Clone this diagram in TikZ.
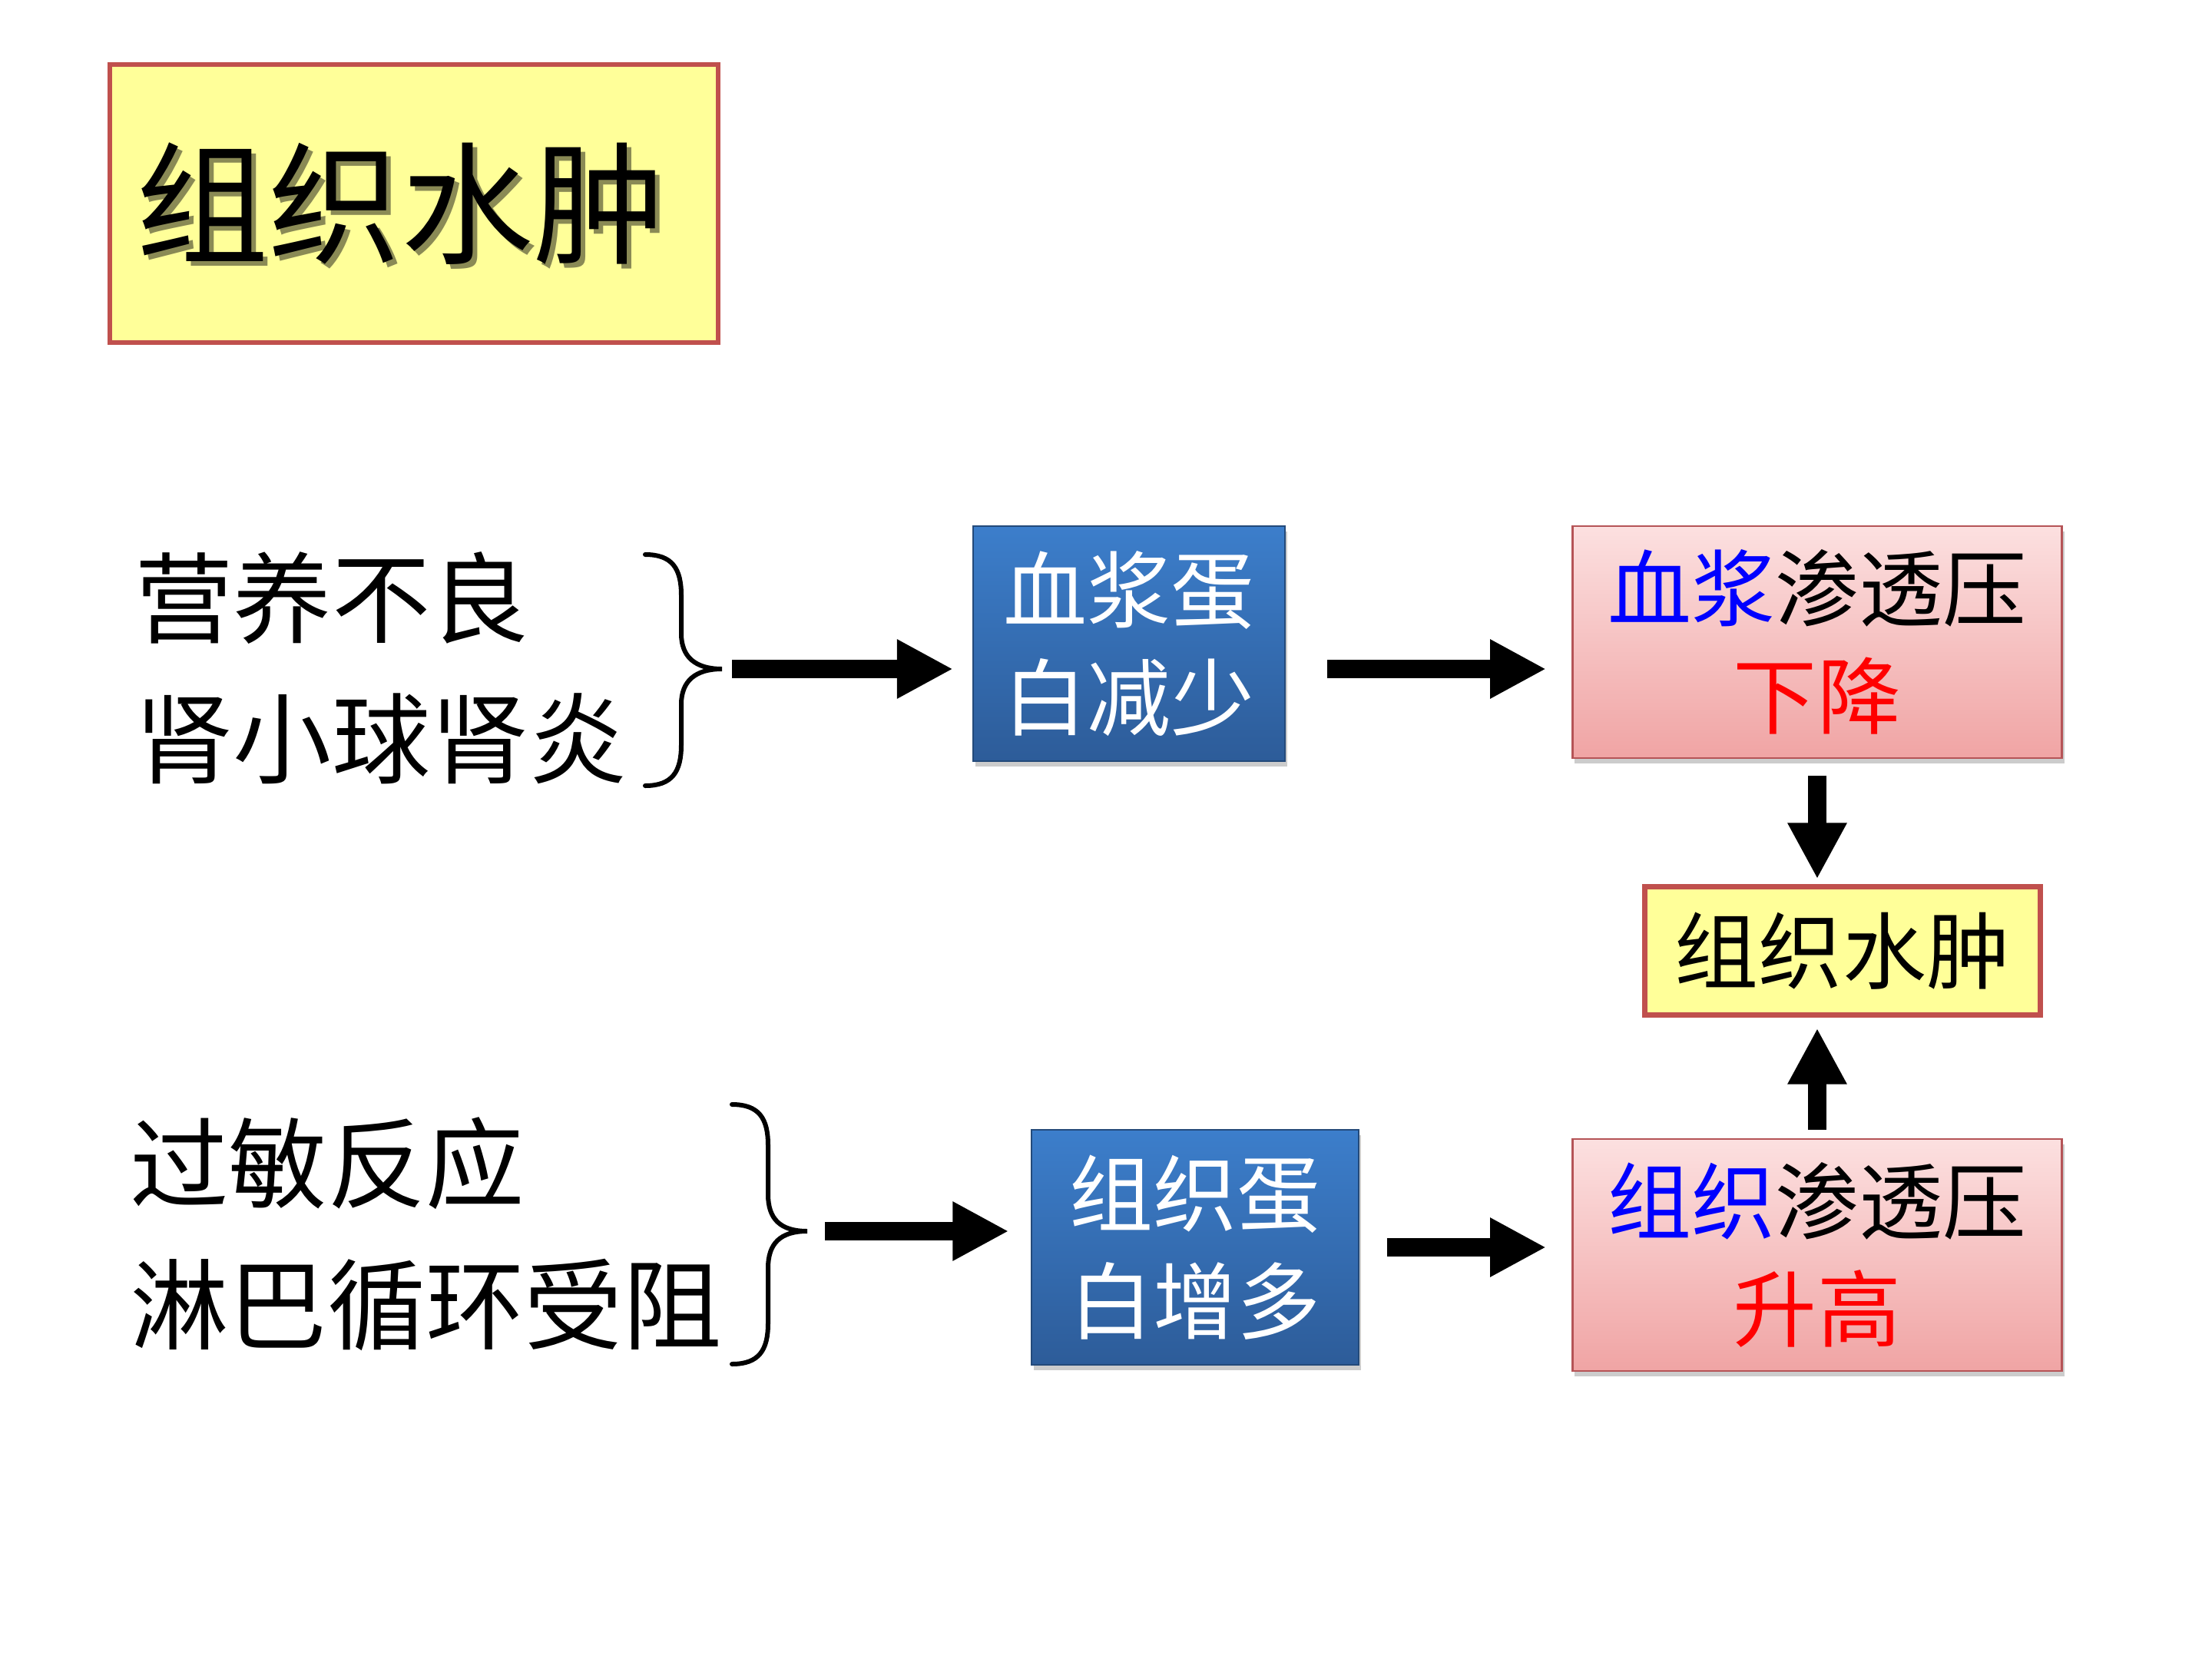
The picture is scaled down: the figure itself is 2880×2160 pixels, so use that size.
\documentclass[tikz,border=0pt]{standalone}
\usepackage{fontspec}
\setmainfont{Noto Sans CJK SC}
\usetikzlibrary{arrows.meta,shadows}

\definecolor{boxred}{HTML}{C0504D}
\definecolor{paleyellow}{HTML}{FFFF99}
\definecolor{titleshade}{HTML}{8A8A55}
\definecolor{bluetop}{HTML}{3C7ECB}
\definecolor{bluebot}{HTML}{2D5C99}
\definecolor{pinktop}{HTML}{FCE0E0}
\definecolor{pinkbot}{HTML}{F0A4A4}
\definecolor{pinkline}{HTML}{B55457}

\tikzset{
  titlebox/.style={draw=boxred, line width=0.055cm, fill=paleyellow,
    minimum width=7.92cm, minimum height=3.62cm},
  edemabox/.style={draw=boxred, line width=0.07cm, fill=paleyellow,
    minimum width=5.14cm, minimum height=1.66cm,
    font=\fontsize{31}{40}\selectfont},
  bluebox/.style={draw=bluebot!80!black, line width=0.02cm,
    top color=bluetop, bottom color=bluebot, text=white, align=center,
    minimum height=3.05cm, font=\fontsize{31}{40}\selectfont,
    drop shadow={opacity=0.4, shadow xshift=0.03cm, shadow yshift=-0.07cm}},
  pinkbox/.style={draw=pinkline, line width=0.025cm,
    top color=pinktop, bottom color=pinkbot, align=center,
    minimum width=6.37cm, minimum height=3.02cm,
    font=\fontsize{31}{40}\selectfont,
    drop shadow={opacity=0.4, shadow xshift=0.03cm, shadow yshift=-0.07cm}},
  cause/.style={anchor=west, font=\fontsize{36.5}{40}\selectfont},
  brace/.style={line width=0.06cm, line cap=round},
  flow/.style={line width=0.24cm, -{Triangle[length=0.73cm, width=0.72cm]}}
}

\begin{document}
\begin{tikzpicture}[x=0.01cm, y=-0.01cm]

    % Page
    \fill[white] (0,0) rectangle (2880,2160);
    \useasboundingbox (0,0) rectangle (2880,2160);

    % Heading (text with a soft offset shade)
    \node[titlebox] (title) at (539,265) {};
    \node[font=\fontsize{49}{50}\selectfont] (heading) at (522,268)
      {\rlap{\hspace{0.06cm}\raisebox{-0.06cm}{\textcolor{titleshade}{组织水肿}}}组织水肿};

    % Causes
    \node[cause] (malnut) at (163,779) {营养不良};
    \node[cause] (nephritis) at (163,962) {肾小球肾炎};
    \node[cause] (allergy) at (157,1515) {过敏反应};
    \node[cause] (lymph) at (157,1699) {淋巴循环受阻};

    % Braces
    \draw[brace] (840,722) .. controls (875,722) and (887,740) .. (887,775)
      -- (887,825) .. controls (887,855) and (905,871) .. (940,871) coordinate (tip1)
      .. controls (905,871) and (887,887) .. (887,917)
      -- (887,970) .. controls (887,1005) and (875,1023) .. (840,1023);
    \draw[brace] (953,1438) .. controls (988,1438) and (1000,1456) .. (1000,1491)
      -- (1000,1555) .. controls (1000,1587) and (1016,1603) .. (1051,1603) coordinate (tip2)
      .. controls (1016,1603) and (1000,1619) .. (1000,1651)
      -- (1000,1723) .. controls (1000,1758) and (988,1776) .. (953,1776);

    % Boxes
    \node[bluebox, minimum width=4.06cm] (blue1) at (1470,838) {血浆蛋\\白减少};
    \node[bluebox, minimum width=4.25cm] (blue2) at (1556,1624) {组织蛋\\白增多};
    \node[pinkbox] (pink1) at (2366,836)
      {\textcolor{blue}{血浆}渗透压\\\textcolor{red}{下降}};
    \node[pinkbox] (pink2) at (2366,1634)
      {\textcolor{blue}{组织}渗透压\\\textcolor{red}{升高}};
    \node[edemabox] (edema) at (2399,1238) {组织水肿};

    % Arrows
    \draw[flow, shorten <=0.13cm, shorten >=0.25cm] (tip1) -- (tip1 -| blue1.west);
    \draw[flow, shorten <=0.54cm, shorten >=0.33cm] (blue1.east |- tip1) -- (pink1.west |- tip1);
    \draw[flow, shorten <=0.22cm, shorten >=0.07cm] (pink1.south) -- (edema.north -| pink1.south);
    \draw[flow, shorten <=0.11cm, shorten >=0.14cm] (pink2.north) -- (edema.south -| pink2.north);
    \draw[flow, shorten <=0.23cm, shorten >=0.29cm] (tip2) -- (tip2 -| blue2.west);
    \draw[flow, shorten <=0.36cm, shorten >=0.33cm] (blue2.east) -- (pink2.west |- blue2.east);

\end{tikzpicture}
\end{document}
